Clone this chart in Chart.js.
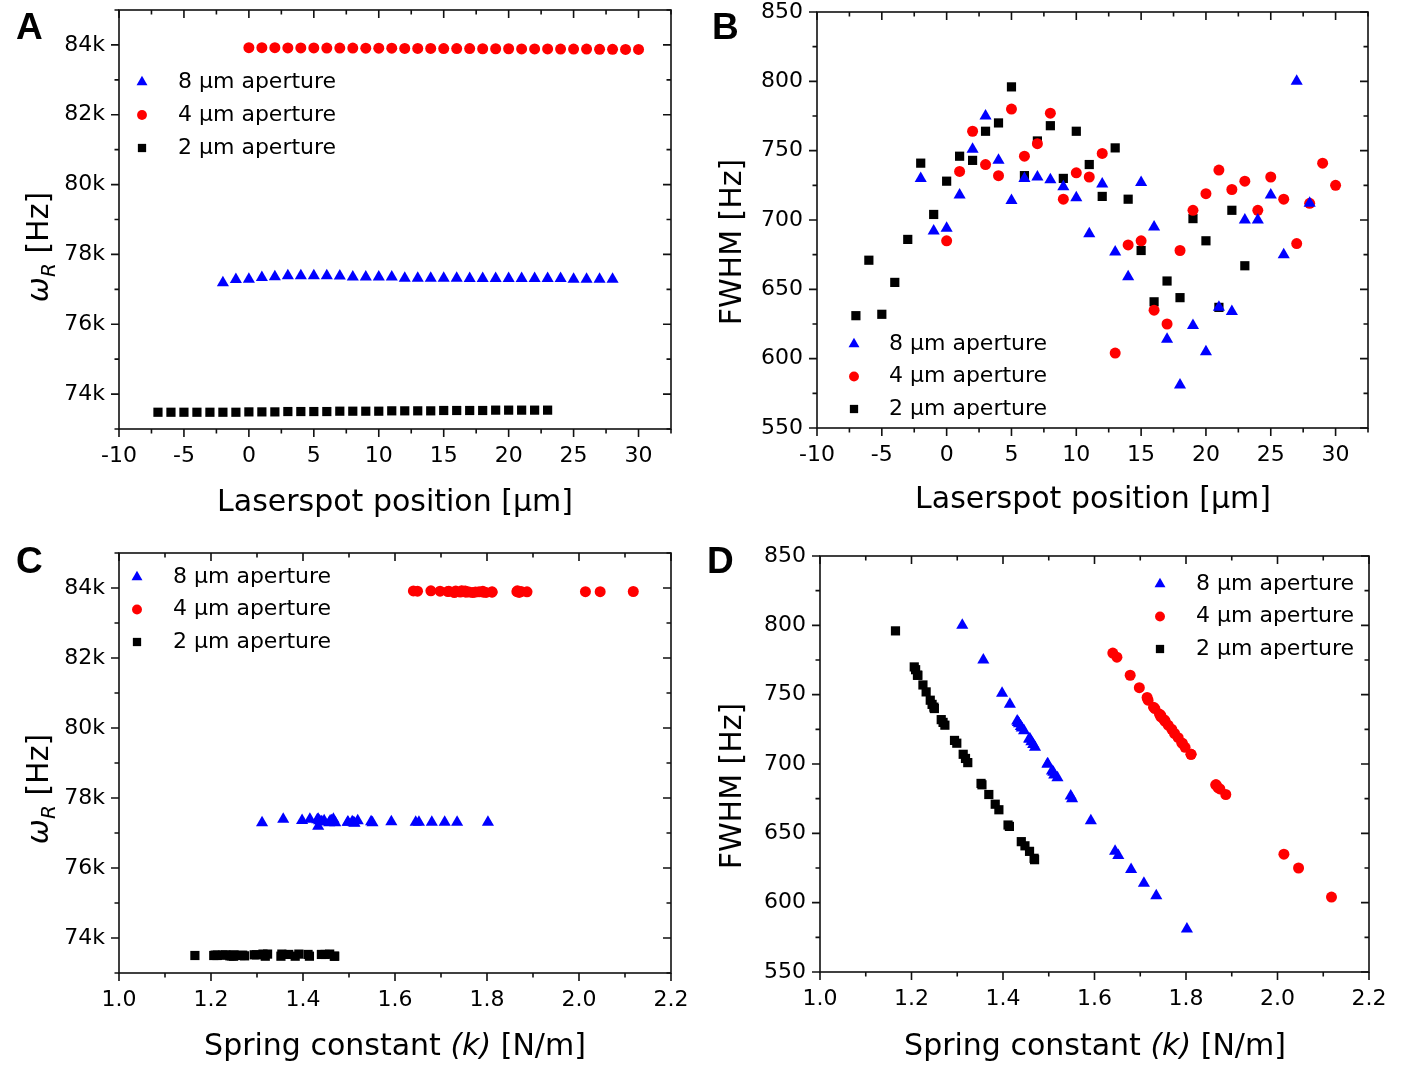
<!DOCTYPE html>
<html>
<head>
<meta charset="utf-8">
<script src="https://cdn.jsdelivr.net/npm/chart.js@4.4.1/dist/chart.umd.min.js"></script>
<style>
  body { margin: 0; background: #fff; width: 1401px; height: 1067px; position: relative; overflow: hidden; }
  canvas { position: absolute; }
</style>
</head>
<body>
<canvas id="chartA" width="700" height="535" style="left:0;top:0"></canvas>
<canvas id="chartB" width="701" height="535" style="left:700px;top:0"></canvas>
<canvas id="chartC" width="700" height="532" style="left:0;top:535px"></canvas>
<canvas id="chartD" width="701" height="532" style="left:700px;top:535px"></canvas>
<script>
// laser spot positions [um] for each aperture
const pos8 = [-2, -1, 0, 1, 2, 3, 4, 5, 6, 7, 8, 9, 10, 11, 12, 13, 14, 15, 16, 17, 18, 19, 20, 21, 22, 23, 24, 25, 26, 27, 28];
const pos4 = [0, 1, 2, 3, 4, 5, 6, 7, 8, 9, 10, 11, 12, 13, 14, 15, 16, 17, 18, 19, 20, 21, 22, 23, 24, 25, 26, 27, 28, 29, 30];
const pos2 = [-7, -6, -5, -4, -3, -2, -1, 0, 1, 2, 3, 4, 5, 6, 7, 8, 9, 10, 11, 12, 13, 14, 15, 16, 17, 18, 19, 20, 21, 22, 23];

// resonance frequency omega_R [Hz]
const omega8 = [77190, 77280, 77290, 77340, 77360, 77390, 77390, 77390, 77390, 77380, 77350, 77350, 77350, 77350, 77320, 77320,
                77320, 77320, 77320, 77310, 77310, 77310, 77310, 77310, 77310, 77310, 77310, 77290, 77290, 77290, 77290];
const omega4 = [83920, 83920, 83920, 83915, 83915, 83915, 83910, 83910, 83910, 83905, 83905, 83905, 83900, 83900, 83900, 83895,
                83895, 83895, 83890, 83890, 83890, 83885, 83885, 83885, 83880, 83880, 83880, 83875, 83875, 83870, 83870];
const omega2 = [73480, 73480, 73480, 73480, 73480, 73480, 73480, 73490, 73490, 73490, 73500, 73500, 73500, 73500, 73510, 73510,
                73510, 73510, 73520, 73520, 73520, 73520, 73530, 73530, 73530, 73530, 73540, 73540, 73540, 73540, 73540];

// FWHM [Hz]
const fwhm8 = [730, 692, 694, 718, 751, 775, 743, 714, 730, 731, 729, 724, 716, 690, 726, 677,
               659, 727, 695, 614, 581, 624, 605, 637, 634, 700, 700, 718, 675, 800, 712];
const fwhm4 = [685, 735, 764, 740, 732, 780, 746, 755, 777, 715, 734, 731, 748, 604, 682, 685,
               635, 625, 678, 707, 719, 736, 722, 728, 707, 731, 715, 683, 712, 741, 725];
const fwhm2 = [631, 671, 632, 655, 686, 741, 704, 728, 746, 743, 764, 770, 796, 732, 757, 768,
               730, 764, 740, 717, 752, 715, 678, 641, 656, 644, 701, 685, 637, 707, 667];

// spring constant k [N/m]
const k8 = [1.433, 1.512, 1.510, 1.459, 1.398, 1.357, 1.415, 1.466, 1.433, 1.431, 1.435, 1.446, 1.462, 1.519, 1.441, 1.548,
            1.592, 1.439, 1.507, 1.708, 1.802, 1.680, 1.735, 1.645, 1.652, 1.498, 1.497, 1.457, 1.551, 1.311, 1.470];
const k4 = [1.866, 1.745, 1.678, 1.732, 1.752, 1.640, 1.717, 1.698, 1.649, 1.791, 1.745, 1.754, 1.715, 2.118, 1.874, 1.865,
            2.014, 2.046, 1.887, 1.811, 1.783, 1.742, 1.775, 1.761, 1.811, 1.754, 1.792, 1.870, 1.798, 1.729, 1.769];
const k2 = [1.469, 1.383, 1.468, 1.414, 1.352, 1.249, 1.318, 1.273, 1.241, 1.245, 1.213, 1.206, 1.165, 1.265, 1.225, 1.209,
            1.269, 1.214, 1.250, 1.294, 1.232, 1.299, 1.369, 1.448, 1.411, 1.440, 1.323, 1.354, 1.458, 1.313, 1.391];

const seriesLabels = ['8 \u03bcm aperture', '4 \u03bcm aperture', '2 \u03bcm aperture'];

// major tick values
const posTicks = [-10, -5, 0, 5, 10, 15, 20, 25, 30];
const omegaTicks = [74000, 76000, 78000, 80000, 82000, 84000];
const fwhmTicks = [550, 600, 650, 700, 750, 800, 850];
const kTicks = [1.0, 1.2, 1.4, 1.6, 1.8, 2.0, 2.2];

const FONT = "'DejaVu Sans', sans-serif";

function pts(xs, ys) {
  return xs.map((v, i) => ({ x: v, y: ys[i] }));
}

function makeDatasets(x8, y8, x4, y4, x2, y2) {
  return [
    { label: seriesLabels[0], data: pts(x8, y8), pointStyle: 'triangle', pointRadius: 7,
      backgroundColor: '#0000ff', borderColor: '#0000ff', borderWidth: 0 },
    { label: seriesLabels[1], data: pts(x4, y4), pointStyle: 'circle', pointRadius: 5.5,
      backgroundColor: '#ff0000', borderColor: '#ff0000', borderWidth: 0 },
    { label: seriesLabels[2], data: pts(x2, y2), pointStyle: 'rect', pointRadius: 6.5,
      backgroundColor: '#000000', borderColor: '#000000', borderWidth: 0 }
  ];
}

// text with italic / subscript parts, optionally rotated for the y title
function drawRich(ctx, parts, x, y, size, rotate) {
  ctx.save();
  ctx.translate(x, y);
  if (rotate) ctx.rotate(-Math.PI / 2);
  ctx.textBaseline = 'middle';
  ctx.textAlign = 'left';
  ctx.fillStyle = '#000';
  const fontOf = p => (p.italic ? 'italic ' : '') + (p.sub ? Math.round(size * 0.68) : size) + 'px ' + FONT;
  let total = 0;
  parts.forEach(p => { ctx.font = fontOf(p); p.w = ctx.measureText(p.t).width; total += p.w; });
  let cx = -total / 2;
  parts.forEach(p => {
    ctx.font = fontOf(p);
    ctx.fillText(p.t, cx, p.sub ? size * 0.32 : 0);
    cx += p.w;
  });
  ctx.restore();
}

function tickValues(scale, step) {
  const out = [];
  const half = step / 2;
  const start = Math.ceil(scale.min / half - 1e-9);
  const end = Math.floor(scale.max / half + 1e-9);
  for (let i = start; i <= end; i++) out.push([i * half, i % 2 === 0]);
  return out;
}

const panelPlugin = {
  id: 'panel',
  afterDraw(chart, args, o) {
    const ctx = chart.ctx;
    const a = chart.chartArea;
    const xs = chart.scales.x, ys = chart.scales.y;
    ctx.save();
    ctx.strokeStyle = '#111';
    ctx.lineWidth = 1.6;
    ctx.beginPath();
    tickValues(xs, o.xStep).forEach(([v, major]) => {
      const px = xs.getPixelForValue(v);
      const len = major ? 8 : 4.5;
      ctx.moveTo(px, a.bottom); ctx.lineTo(px, a.bottom + len);
      ctx.moveTo(px, a.top); ctx.lineTo(px, a.top + len);
    });
    tickValues(ys, o.yStep).forEach(([v, major]) => {
      const py = ys.getPixelForValue(v);
      const len = major ? 8 : 4.5;
      ctx.moveTo(a.left - len, py); ctx.lineTo(a.left, py);
      ctx.moveTo(a.right - len, py); ctx.lineTo(a.right, py);
    });
    ctx.stroke();
    ctx.strokeRect(a.left, a.top, a.right - a.left, a.bottom - a.top);

    // legend
    chart.data.datasets.forEach((ds, i) => {
      const y = o.legend.y + i * o.legend.dy;
      ctx.fillStyle = ds.backgroundColor;
      Chart.helpers.drawPoint(ctx, { pointStyle: ds.pointStyle, radius: ds.pointRadius * 0.9, rotation: 0, borderWidth: 0 },
        o.legend.x, y);
      ctx.fillStyle = '#000';
      ctx.font = '22px ' + FONT;
      ctx.textBaseline = 'middle';
      ctx.textAlign = 'left';
      ctx.fillText(ds.label, o.legend.textX, y);
    });

    // panel letter
    ctx.fillStyle = '#000';
    ctx.font = "bold 37px 'Liberation Sans', Arial, sans-serif";
    ctx.textBaseline = 'alphabetic';
    ctx.fillText(o.letter, o.letterPos[0], o.letterPos[1]);

    drawRich(ctx, o.xTitle, o.xTitlePos[0], o.xTitlePos[1], 30, false);
    drawRich(ctx, o.yTitle, o.yTitlePos[0], o.yTitlePos[1], 30, true);
    ctx.restore();
  }
};

function axis(min, max, tickList, fmt, fitFn) {
  return {
    type: 'linear', min: min, max: max,
    grid: { display: false, drawTicks: false },
    border: { display: false },
    ticks: { padding: 14, color: '#000', maxRotation: 0,
             font: { family: FONT, size: 22 }, callback: fmt },
    afterBuildTicks: s => { s.ticks = tickList.map(v => ({ value: v })); },
    afterFit: s => {
      fitFn(s);
      // the frame is fixed, so labels may hang over it
      s.paddingTop = 0; s.paddingBottom = 0; s.paddingLeft = 0; s.paddingRight = 0;
    }
  };
}

const fmtK = v => Math.round(v / 1000) + 'k';
const fmtInt = v => String(Math.round(v));
const fmt1 = v => v.toFixed(1);

function makePanel(id, cfg) {
  return new Chart(document.getElementById(id), {
    type: 'scatter',
    data: { datasets: cfg.datasets },
    options: {
      responsive: false,
      animation: false,
      events: [],
      devicePixelRatio: 1,
      layout: { padding: { left: 0, top: cfg.area.top, right: cfg.area.right, bottom: 0 } },
      plugins: {
        legend: { display: false },
        tooltip: { enabled: false },
        panel: cfg.panel
      },
      scales: {
        x: axis(cfg.x[0], cfg.x[1], cfg.x[2], cfg.x[3], s => { s.height = cfg.area.xh; }),
        y: axis(cfg.y[0], cfg.y[1], cfg.y[2], cfg.y[3], s => { s.width = cfg.area.yw; })
      }
    },
    plugins: [panelPlugin]
  });
}

const omegaTitle = () => [{ t: '\u03c9', italic: true }, { t: 'R', italic: true, sub: true }, { t: ' [Hz]' }];
const fwhmTitle = () => [{ t: 'FWHM [Hz]' }];
const posTitle = () => [{ t: 'Laserspot position [\u03bcm]' }];
const springTitle = () => [{ t: 'Spring constant ' }, { t: '(k)', italic: true }, { t: ' [N/m]' }];

makePanel('chartA', {
  datasets: makeDatasets(pos8, omega8, pos4, omega4, pos2, omega2),
  area: { top: 10, right: 29, xh: 106, yw: 119 },
  x: [-10, 32.5, posTicks, fmtInt],
  y: [73000, 85000, omegaTicks, fmtK],
  panel: { xStep: 5, yStep: 2000, letter: 'A', letterPos: [16, 39],
           legend: { x: 142, textX: 178, y: 82, dy: 33 },
           xTitle: posTitle(), xTitlePos: [395, 503], yTitle: omegaTitle(), yTitlePos: [40, 247] }
});

makePanel('chartB', {
  datasets: makeDatasets(pos8, fwhm8, pos4, fwhm4, pos2, fwhm2),
  area: { top: 12, right: 33, xh: 107, yw: 117 },
  x: [-10, 32.5, posTicks, fmtInt],
  y: [550, 850, fwhmTicks, fmtInt],
  panel: { xStep: 5, yStep: 50, letter: 'B', letterPos: [12, 39],
           legend: { x: 154, textX: 189, y: 344, dy: 32.5 },
           xTitle: posTitle(), xTitlePos: [393, 500], yTitle: fwhmTitle(), yTitlePos: [33, 242] }
});

makePanel('chartC', {
  datasets: makeDatasets(k8, omega8, k4, omega4, k2, omega2),
  area: { top: 18, right: 29, xh: 94, yw: 119 },
  x: [1.0, 2.2, kTicks, fmt1],
  y: [73000, 85000, omegaTicks, fmtK],
  panel: { xStep: 0.2, yStep: 2000, letter: 'C', letterPos: [16, 38],
           legend: { x: 137, textX: 173, y: 42, dy: 32.5 },
           xTitle: springTitle(), xTitlePos: [395, 512], yTitle: omegaTitle(), yTitlePos: [40, 254] }
});

makePanel('chartD', {
  datasets: makeDatasets(k8, fwhm8, k4, fwhm4, k2, fwhm2),
  area: { top: 21, right: 32, xh: 95, yw: 120 },
  x: [1.0, 2.2, kTicks, fmt1],
  y: [550, 850, fwhmTicks, fmtInt],
  panel: { xStep: 0.2, yStep: 50, letter: 'D', letterPos: [7, 38],
           legend: { x: 460, textX: 496, y: 49, dy: 32.5 },
           xTitle: springTitle(), xTitlePos: [395, 512], yTitle: fwhmTitle(), yTitlePos: [33, 251] }
});
</script>
</body>
</html>
